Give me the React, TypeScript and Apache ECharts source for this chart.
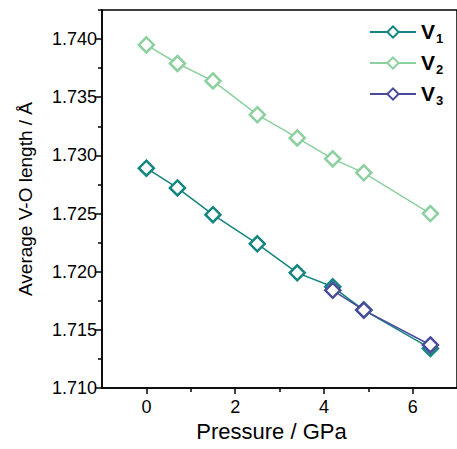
import React, { useEffect, useRef } from "react";
import * as echarts from "echarts";

const pressures = [0, 0.7, 1.5, 2.5, 3.4, 4.2, 4.9, 6.4];
const v1 = [1.7289, 1.7272, 1.7249, 1.7224, 1.7199, 1.7187, 1.7167, 1.7134];
const v2 = [1.7395, 1.7379, 1.7364, 1.7335, 1.7315, 1.7297, 1.7285, 1.725];
const v3Pressures = [4.2, 4.9, 6.4];
const v3 = [1.7184, 1.7167, 1.7137];

const yMajor = [1.71, 1.715, 1.72, 1.725, 1.73, 1.735, 1.74];
const yMinor = [1.7125, 1.7175, 1.7225, 1.7275, 1.7325, 1.7375, 1.7425];
const xMajor = [0, 2, 4, 6];
const xMinor = [1, 3, 5];

const seriesNames = ["V1", "V2", "V3"];
const colors = ["#14857f", "#8cd09f", "#4a4a9c"];

const FONT = "'Liberation Sans', Arial, sans-serif";

export default function App() {
  const ref = useRef<HTMLDivElement>(null);
  useEffect(() => {
    document.body.style.margin = "0";
    const chart = echarts.init(ref.current!, null, { renderer: "svg" });
    const pts = (xs: number[], ys: number[]) => xs.map((x, i) => [x, ys[i]]);
    const mk = (i: number, data: number[][]) => ({
      name: seriesNames[i],
      type: "line",
      data,
      xAxisIndex: 0,
      yAxisIndex: 0,
      symbol: "diamond",
      symbolSize: 15,
      lineStyle: { color: colors[i], width: 1.5 },
      itemStyle: { color: "#fff", borderColor: colors[i], borderWidth: 2.5 },
      z: 2 + i,
    });
    const axisCommon = { onZero: false, lineStyle: { color: "#000", width: 1.5 } };
    chart.setOption({
      animation: false,
      textStyle: { fontFamily: FONT },
      grid: {
        left: 102,
        top: 10,
        width: 358,
        height: 378,
        show: true,
        borderColor: "#000",
        borderWidth: 1.5,
      },
      legend: {
        orient: "vertical",
        left: 364,
        top: 16,
        itemWidth: 46,
        itemHeight: 14,
        itemGap: 7,
        data: seriesNames,
        formatter: (n: string) => `{v|V}{s|${n.slice(1)}}`,
        textStyle: {
          rich: {
            v: { fontSize: 21, fontWeight: "bold", color: "#000", fontFamily: FONT, lineHeight: 22, verticalAlign: "top" },
            s: { fontSize: 13, fontWeight: "bold", color: "#000", fontFamily: FONT, lineHeight: 14, verticalAlign: "top", padding: [11, 0, 0, 1] },
          },
        },
      },
      xAxis: [
        {
          type: "value",
          min: -1,
          max: 7,
          interval: 1,
          position: "bottom",
          splitLine: { show: false },
          axisLine: axisCommon,
          axisTick: { show: true, length: 6, lineStyle: { color: "#000", width: 1.5 }, customValues: xMajor },
          axisLabel: { customValues: xMajor, color: "#000", fontSize: 18, margin: 10, fontFamily: FONT },
          name: "Pressure / GPa",
          nameLocation: "middle",
          nameGap: 31,
          nameTextStyle: { fontSize: 22, color: "#000", fontFamily: FONT, padding: [0, 16, 0, 0] },
        },
        {
          type: "value",
          min: -1,
          max: 7,
          interval: 1,
          position: "bottom",
          splitLine: { show: false },
          axisLine: { show: false, onZero: false },
          axisTick: { show: true, length: 4, lineStyle: { color: "#000", width: 1.5 }, customValues: xMinor },
          axisLabel: { show: false },
        },
      ],
      yAxis: [
        {
          type: "value",
          min: 1.71,
          max: 1.7425,
          interval: 0.005,
          position: "left",
          splitLine: { show: false },
          axisLine: { show: true, ...axisCommon },
          axisTick: { show: true, length: 7, lineStyle: { color: "#000", width: 1.5 }, customValues: yMajor },
          axisLabel: {
            customValues: yMajor,
            color: "#000",
            fontSize: 18,
            margin: 5,
            fontFamily: FONT,
            formatter: (v: number) => v.toFixed(3),
          },
          name: "Average V-O length / Å",
          nameLocation: "middle",
          nameGap: 67,
          nameTextStyle: { fontSize: 19, color: "#000", fontFamily: FONT },
        },
        {
          type: "value",
          min: 1.71,
          max: 1.7425,
          interval: 0.0025,
          position: "left",
          splitLine: { show: false },
          axisLine: { show: false, onZero: false },
          axisTick: { show: true, length: 4, lineStyle: { color: "#000", width: 1.5 }, customValues: yMinor },
          axisLabel: { show: false },
        },
      ],
      series: [mk(0, pts(pressures, v1)), mk(1, pts(pressures, v2)), mk(2, pts(v3Pressures, v3))],
    });
    return () => chart.dispose();
  }, []);
  return <div ref={ref} style={{ width: 457, height: 449 }} />;
}
